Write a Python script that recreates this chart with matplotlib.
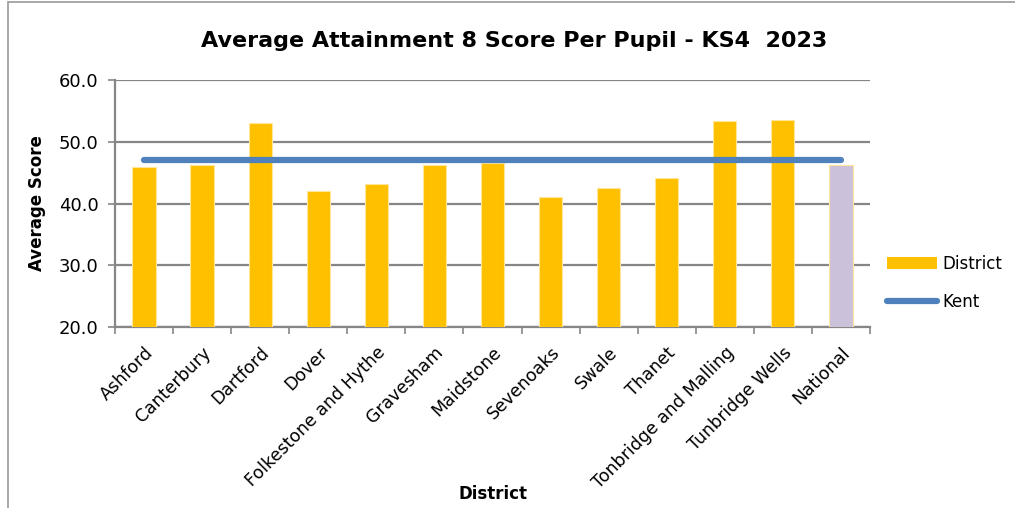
import matplotlib
matplotlib.use("Agg")
import matplotlib.pyplot as plt
from matplotlib.patches import Rectangle
from matplotlib.lines import Line2D
from matplotlib.patches import Patch

districts = ["Ashford", "Canterbury", "Dartford", "Dover", "Folkestone and Hythe",
             "Gravesham", "Maidstone", "Sevenoaks", "Swale", "Thanet",
             "Tonbridge and Malling", "Tunbridge Wells", "National"]
scores = [45.9, 46.3, 53.1, 42.0, 43.2, 46.2, 46.5, 41.1, 42.5, 44.1, 53.4, 53.6, 46.2]
kent_average = 47.0
y_ticks = [20.0, 30.0, 40.0, 50.0, 60.0]

district_color = "#FFC000"
national_color = "#CCC1DA"
kent_color = "#4F81BD"
grid_color = "#868686"

fig = plt.figure(figsize=(10.15, 5.08), dpi=100)
ax = fig.add_axes([0.1133, 0.3563, 0.7438, 0.4862])

x = list(range(len(districts)))
colors = [district_color] * (len(districts) - 1) + [national_color]
ax.bar(x, [s - y_ticks[0] for s in scores], bottom=y_ticks[0], width=0.4,
       color=colors, edgecolor="#FFE699", linewidth=0.8, zorder=3)
ax.plot([x[0], x[-1]], [kent_average, kent_average], color=kent_color,
        linewidth=4.5, solid_capstyle="round", zorder=4)

ax.set_xlim(-0.5, len(districts) - 0.5)
ax.set_ylim(y_ticks[0], y_ticks[-1])
ax.set_yticks(y_ticks)
ax.set_yticklabels([f"{v:.1f}" for v in y_ticks], fontsize=13)
ax.yaxis.grid(True, color=grid_color, linewidth=1.6, zorder=0)
ax.set_axisbelow(True)

ax.set_xticks(x)
ax.set_xticklabels(districts, rotation=45, ha="right", rotation_mode="anchor",
                   fontsize=12.5)
ax.set_xticks([i - 0.5 for i in range(len(districts) + 1)], minor=True)
ax.tick_params(axis="x", which="major", length=0, pad=12)
ax.tick_params(axis="x", which="minor", length=5, color=grid_color, width=1.2)
ax.tick_params(axis="y", length=5, color=grid_color, width=1.2, pad=7)

for side in ["top", "right"]:
    ax.spines[side].set_visible(False)
for side in ["left", "bottom"]:
    ax.spines[side].set_color(grid_color)
    ax.spines[side].set_linewidth(1.6)

ax.set_ylabel("Average Score", fontsize=12, fontweight="bold", labelpad=9)
fig.text(0.486, 0.027, "District", fontsize=12, fontweight="bold",
         ha="center", va="center")
fig.text(0.507, 0.92, "Average Attainment 8 Score Per Pupil - KS4  2023",
         fontsize=16, fontweight="bold", ha="center", va="center")

handles = [Patch(facecolor=district_color, edgecolor="none", label="District"),
           Line2D([0], [0], color=kent_color, linewidth=4.5,
                  solid_capstyle="round", label="Kent")]
fig.legend(handles=handles, loc="center left", bbox_to_anchor=(0.859, 0.443),
           frameon=False, fontsize=12, handlelength=3.0, handletextpad=0.3,
           labelspacing=1.2)

fig.patches.append(Rectangle((0.008, -0.05), 1.1, 1.047, transform=fig.transFigure,
                             fill=False, edgecolor="#999999", linewidth=1.2))

fig.savefig("out.png", dpi=100)
